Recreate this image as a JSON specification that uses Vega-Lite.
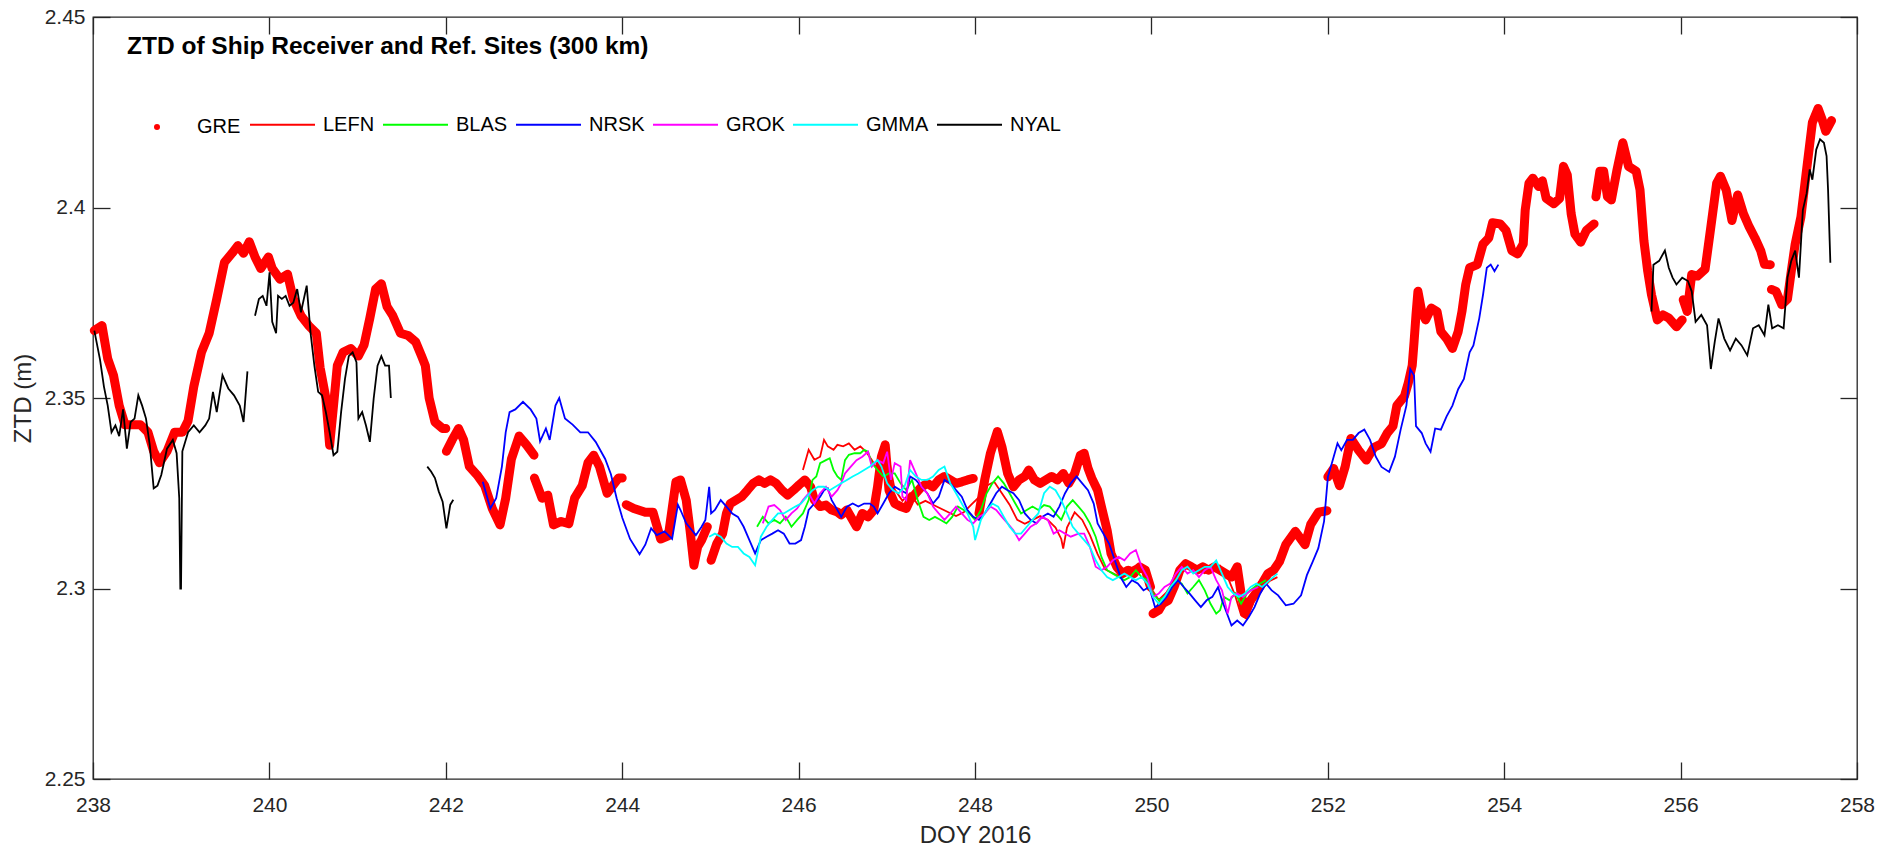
{
"$schema":"https://vega.github.io/schema/vega-lite/v6.json",
"width":1764,"height":762,
"autosize":{"type":"none"},
"padding":{"left":93,"top":17,"right":22,"bottom":71},
"background":"white",
"title":{"text":"ZTD of Ship Receiver and Ref. Sites (300 km)","anchor":"start","frame":"group","orient":"top","offset":-53,"dx":34,"font":"Liberation Sans","fontSize":24.5,"fontWeight":"bold","color":"#000000"},
"config":{"view":{"stroke":"#262626","strokeWidth":1.3},"font":"Liberation Sans"},
"datasets":{
"GRE":[
{"seg":1,"doy":238.015,"ztd":2.3677},{"seg":1,"doy":238.102,"ztd":2.369},{"seg":1,"doy":238.167,"ztd":2.3603},{"seg":1,"doy":238.232,"ztd":2.356},{"seg":1,"doy":238.297,"ztd":2.348},{"seg":1,"doy":238.362,"ztd":2.343},{"seg":1,"doy":238.449,"ztd":2.343},{"seg":1,"doy":238.536,"ztd":2.343},{"seg":1,"doy":238.623,"ztd":2.341},{"seg":1,"doy":238.688,"ztd":2.336},{"seg":1,"doy":238.753,"ztd":2.333},{"seg":1,"doy":238.839,"ztd":2.336},{"seg":1,"doy":238.926,"ztd":2.341},{"seg":1,"doy":239.013,"ztd":2.341},{"seg":1,"doy":239.078,"ztd":2.344},{"seg":1,"doy":239.143,"ztd":2.353},{"seg":1,"doy":239.23,"ztd":2.362},{"seg":1,"doy":239.317,"ztd":2.367},{"seg":1,"doy":239.403,"ztd":2.376},{"seg":1,"doy":239.49,"ztd":2.3856},{"seg":1,"doy":239.577,"ztd":2.388},{"seg":1,"doy":239.642,"ztd":2.39},{"seg":1,"doy":239.707,"ztd":2.388},{"seg":1,"doy":239.772,"ztd":2.391},{"seg":1,"doy":239.837,"ztd":2.387},{"seg":1,"doy":239.902,"ztd":2.384},{"seg":1,"doy":239.989,"ztd":2.387},{"seg":1,"doy":240.032,"ztd":2.384},{"seg":1,"doy":240.119,"ztd":2.3812},{"seg":1,"doy":240.206,"ztd":2.3825},{"seg":1,"doy":240.271,"ztd":2.376},{"seg":1,"doy":240.358,"ztd":2.3716},{"seg":1,"doy":240.445,"ztd":2.369},{"seg":1,"doy":240.532,"ztd":2.367},{"seg":1,"doy":240.575,"ztd":2.358},{"seg":1,"doy":240.64,"ztd":2.35},{"seg":1,"doy":240.683,"ztd":2.3376},{"seg":1,"doy":240.727,"ztd":2.348},{"seg":1,"doy":240.77,"ztd":2.3585},{"seg":1,"doy":240.835,"ztd":2.362},{"seg":1,"doy":240.922,"ztd":2.363},{"seg":1,"doy":241.009,"ztd":2.361},{"seg":1,"doy":241.074,"ztd":2.364},{"seg":1,"doy":241.139,"ztd":2.371},{"seg":1,"doy":241.204,"ztd":2.3786},{"seg":1,"doy":241.269,"ztd":2.38},{"seg":1,"doy":241.334,"ztd":2.374},{"seg":1,"doy":241.399,"ztd":2.3716},{"seg":1,"doy":241.486,"ztd":2.367},{"seg":1,"doy":241.573,"ztd":2.3664},{"seg":1,"doy":241.659,"ztd":2.3647},{"seg":1,"doy":241.725,"ztd":2.361},{"seg":1,"doy":241.768,"ztd":2.3585},{"seg":1,"doy":241.811,"ztd":2.35},{"seg":1,"doy":241.877,"ztd":2.3437},{"seg":1,"doy":241.964,"ztd":2.342},{"seg":1,"doy":242.0,"ztd":2.342},
{"seg":2,"doy":242.007,"ztd":2.336},{"seg":2,"doy":242.072,"ztd":2.339},{"seg":2,"doy":242.145,"ztd":2.342},{"seg":2,"doy":242.202,"ztd":2.339},{"seg":2,"doy":242.267,"ztd":2.332},{"seg":2,"doy":242.354,"ztd":2.3298},{"seg":2,"doy":242.441,"ztd":2.327},{"seg":2,"doy":242.527,"ztd":2.321},{"seg":2,"doy":242.615,"ztd":2.3167},{"seg":2,"doy":242.679,"ztd":2.3237},{"seg":2,"doy":242.744,"ztd":2.334},{"seg":2,"doy":242.831,"ztd":2.34},{"seg":2,"doy":242.918,"ztd":2.3376},{"seg":2,"doy":243.0,"ztd":2.335},
{"seg":3,"doy":243.005,"ztd":2.329},{"seg":3,"doy":243.091,"ztd":2.3237},{"seg":3,"doy":243.156,"ztd":2.3245},{"seg":3,"doy":243.221,"ztd":2.3167},{"seg":3,"doy":243.308,"ztd":2.3176},{"seg":3,"doy":243.395,"ztd":2.317},{"seg":3,"doy":243.46,"ztd":2.3237},{"seg":3,"doy":243.547,"ztd":2.327},{"seg":3,"doy":243.612,"ztd":2.333},{"seg":3,"doy":243.677,"ztd":2.335},{"seg":3,"doy":243.742,"ztd":2.332},{"seg":3,"doy":243.829,"ztd":2.325},{"seg":3,"doy":243.894,"ztd":2.327},{"seg":3,"doy":243.959,"ztd":2.329},{"seg":3,"doy":244.0,"ztd":2.329},
{"seg":4,"doy":244.046,"ztd":2.322},{"seg":4,"doy":244.132,"ztd":2.321},{"seg":4,"doy":244.262,"ztd":2.32},{"seg":4,"doy":244.349,"ztd":2.32},{"seg":4,"doy":244.436,"ztd":2.313},{"seg":4,"doy":244.523,"ztd":2.3138},{"seg":4,"doy":244.609,"ztd":2.328},{"seg":4,"doy":244.661,"ztd":2.3285},{"seg":4,"doy":244.726,"ztd":2.3232},{"seg":4,"doy":244.769,"ztd":2.3153},{"seg":4,"doy":244.813,"ztd":2.3061},{"seg":4,"doy":244.856,"ztd":2.311},{"seg":4,"doy":244.9,"ztd":2.3127},{"seg":4,"doy":244.965,"ztd":2.3162},
{"seg":5,"doy":245.008,"ztd":2.3074},{"seg":5,"doy":245.073,"ztd":2.3118},{"seg":5,"doy":245.138,"ztd":2.3144},{"seg":5,"doy":245.182,"ztd":2.3197},{"seg":5,"doy":245.225,"ztd":2.3223},{"seg":5,"doy":245.29,"ztd":2.3232},{"seg":5,"doy":245.355,"ztd":2.3241},{"seg":5,"doy":245.42,"ztd":2.3258},{"seg":5,"doy":245.485,"ztd":2.3276},{"seg":5,"doy":245.55,"ztd":2.3285},{"seg":5,"doy":245.615,"ztd":2.3276},{"seg":5,"doy":245.681,"ztd":2.3285},{"seg":5,"doy":245.746,"ztd":2.3276},{"seg":5,"doy":245.811,"ztd":2.3258},{"seg":5,"doy":245.876,"ztd":2.3245},{"seg":5,"doy":245.941,"ztd":2.3258},{"seg":5,"doy":246.006,"ztd":2.3272},{"seg":5,"doy":246.071,"ztd":2.3285},{"seg":5,"doy":246.136,"ztd":2.3267},{"seg":5,"doy":246.179,"ztd":2.3232},{"seg":5,"doy":246.244,"ztd":2.3215},{"seg":5,"doy":246.31,"ztd":2.3219},{"seg":5,"doy":246.375,"ztd":2.3206},{"seg":5,"doy":246.44,"ztd":2.3201},{"seg":5,"doy":246.483,"ztd":2.3193},{"seg":5,"doy":246.548,"ztd":2.3206},{"seg":5,"doy":246.613,"ztd":2.318},{"seg":5,"doy":246.657,"ztd":2.3162},{"seg":5,"doy":246.722,"ztd":2.3197},{"seg":5,"doy":246.787,"ztd":2.3188},{"seg":5,"doy":246.852,"ztd":2.3206},{"seg":5,"doy":246.895,"ztd":2.3267},{"seg":5,"doy":246.939,"ztd":2.3346},{"seg":5,"doy":246.982,"ztd":2.3377},{"seg":5,"doy":247.025,"ztd":2.3258},{"seg":5,"doy":247.09,"ztd":2.3223},{"seg":5,"doy":247.156,"ztd":2.3215},{"seg":5,"doy":247.221,"ztd":2.321},{"seg":5,"doy":247.264,"ztd":2.3232},{"seg":5,"doy":247.329,"ztd":2.325},{"seg":5,"doy":247.394,"ztd":2.3267},{"seg":5,"doy":247.459,"ztd":2.3276},{"seg":5,"doy":247.524,"ztd":2.3267},{"seg":5,"doy":247.589,"ztd":2.3285},{"seg":5,"doy":247.654,"ztd":2.3294},{"seg":5,"doy":247.72,"ztd":2.3285},{"seg":5,"doy":247.785,"ztd":2.3276},{"seg":5,"doy":247.85,"ztd":2.328},{"seg":5,"doy":247.915,"ztd":2.3285},{"seg":5,"doy":247.98,"ztd":2.3289},
{"seg":6,"doy":248.045,"ztd":2.3197},{"seg":6,"doy":248.11,"ztd":2.3285},{"seg":6,"doy":248.175,"ztd":2.3355},{"seg":6,"doy":248.253,"ztd":2.3412},{"seg":6,"doy":248.305,"ztd":2.3372},{"seg":6,"doy":248.37,"ztd":2.3302},{"seg":6,"doy":248.435,"ztd":2.3267},{"seg":6,"doy":248.5,"ztd":2.3285},{"seg":6,"doy":248.565,"ztd":2.3294},{"seg":6,"doy":248.609,"ztd":2.3311},{"seg":6,"doy":248.674,"ztd":2.3285},{"seg":6,"doy":248.739,"ztd":2.3276},{"seg":6,"doy":248.804,"ztd":2.3285},{"seg":6,"doy":248.869,"ztd":2.3294},{"seg":6,"doy":248.934,"ztd":2.3285},{"seg":6,"doy":249.0,"ztd":2.3302},{"seg":6,"doy":249.064,"ztd":2.3276},{"seg":6,"doy":249.13,"ztd":2.3302},{"seg":6,"doy":249.195,"ztd":2.335},{"seg":6,"doy":249.238,"ztd":2.3355},{"seg":6,"doy":249.281,"ztd":2.3316},{"seg":6,"doy":249.325,"ztd":2.3289},{"seg":6,"doy":249.39,"ztd":2.3258},{"seg":6,"doy":249.433,"ztd":2.3215},{"seg":6,"doy":249.498,"ztd":2.3153},{"seg":6,"doy":249.542,"ztd":2.3092},{"seg":6,"doy":249.607,"ztd":2.3057},{"seg":6,"doy":249.672,"ztd":2.3039},{"seg":6,"doy":249.737,"ztd":2.3048},{"seg":6,"doy":249.802,"ztd":2.3039},{"seg":6,"doy":249.867,"ztd":2.3057},{"seg":6,"doy":249.932,"ztd":2.3048},{"seg":6,"doy":249.99,"ztd":2.3004},
{"seg":7,"doy":250.019,"ztd":2.2934},{"seg":7,"doy":250.084,"ztd":2.2943},{"seg":7,"doy":250.127,"ztd":2.296},{"seg":7,"doy":250.192,"ztd":2.2969},{"seg":7,"doy":250.257,"ztd":2.3004},{"seg":7,"doy":250.322,"ztd":2.3048},{"seg":7,"doy":250.388,"ztd":2.3065},{"seg":7,"doy":250.453,"ztd":2.3057},{"seg":7,"doy":250.518,"ztd":2.3048},{"seg":7,"doy":250.583,"ztd":2.3057},{"seg":7,"doy":250.648,"ztd":2.3048},{"seg":7,"doy":250.713,"ztd":2.3057},{"seg":7,"doy":250.778,"ztd":2.3048},{"seg":7,"doy":250.843,"ztd":2.3039},{"seg":7,"doy":250.908,"ztd":2.303},{"seg":7,"doy":250.973,"ztd":2.3057},{"seg":7,"doy":251.017,"ztd":2.2987},{"seg":7,"doy":251.06,"ztd":2.2934},{"seg":7,"doy":251.125,"ztd":2.2969},{"seg":7,"doy":251.19,"ztd":2.299},{"seg":7,"doy":251.255,"ztd":2.3013},{"seg":7,"doy":251.321,"ztd":2.3039},{"seg":7,"doy":251.386,"ztd":2.3048},{"seg":7,"doy":251.451,"ztd":2.307},{"seg":7,"doy":251.524,"ztd":2.3115},{"seg":7,"doy":251.632,"ztd":2.315},{"seg":7,"doy":251.741,"ztd":2.3115},{"seg":7,"doy":251.806,"ztd":2.3168},{"seg":7,"doy":251.893,"ztd":2.32},{"seg":7,"doy":251.99,"ztd":2.3204},
{"seg":8,"doy":252.001,"ztd":2.3293},{"seg":8,"doy":252.066,"ztd":2.3315},{"seg":8,"doy":252.132,"ztd":2.327},{"seg":8,"doy":252.197,"ztd":2.332},{"seg":8,"doy":252.262,"ztd":2.3394},{"seg":8,"doy":252.349,"ztd":2.3363},{"seg":8,"doy":252.436,"ztd":2.3337},{"seg":8,"doy":252.522,"ztd":2.337},{"seg":8,"doy":252.609,"ztd":2.338},{"seg":8,"doy":252.674,"ztd":2.3408},{"seg":8,"doy":252.739,"ztd":2.3426},{"seg":8,"doy":252.783,"ztd":2.348},{"seg":8,"doy":252.87,"ztd":2.3505},{"seg":8,"doy":252.913,"ztd":2.354},{"seg":8,"doy":252.957,"ztd":2.3585},{"seg":8,"doy":252.978,"ztd":2.3647},{"seg":8,"doy":253.0,"ztd":2.3718},{"seg":8,"doy":253.022,"ztd":2.378},{"seg":8,"doy":253.065,"ztd":2.3727},{"seg":8,"doy":253.109,"ztd":2.3705},{"seg":8,"doy":253.174,"ztd":2.3736},{"seg":8,"doy":253.239,"ztd":2.3727},{"seg":8,"doy":253.282,"ztd":2.3674},{"seg":8,"doy":253.347,"ztd":2.3656},{"seg":8,"doy":253.413,"ztd":2.363},{"seg":8,"doy":253.478,"ztd":2.3674},{"seg":8,"doy":253.521,"ztd":2.3727},{"seg":8,"doy":253.564,"ztd":2.3798},{"seg":8,"doy":253.608,"ztd":2.3842},{"seg":8,"doy":253.695,"ztd":2.385},{"seg":8,"doy":253.76,"ztd":2.3904},{"seg":8,"doy":253.825,"ztd":2.392},{"seg":8,"doy":253.868,"ztd":2.396},{"seg":8,"doy":253.955,"ztd":2.3957},{"seg":8,"doy":254.02,"ztd":2.394},{"seg":8,"doy":254.086,"ztd":2.3887},{"seg":8,"doy":254.151,"ztd":2.3878},{"seg":8,"doy":254.216,"ztd":2.3904},{"seg":8,"doy":254.238,"ztd":2.3993},{"seg":8,"doy":254.281,"ztd":2.4064},{"seg":8,"doy":254.324,"ztd":2.4077},{"seg":8,"doy":254.39,"ztd":2.4055},{"seg":8,"doy":254.433,"ztd":2.407},{"seg":8,"doy":254.476,"ztd":2.4024},{"seg":8,"doy":254.563,"ztd":2.401},{"seg":8,"doy":254.628,"ztd":2.4024},{"seg":8,"doy":254.672,"ztd":2.4108},{"seg":8,"doy":254.715,"ztd":2.4086},{"seg":8,"doy":254.759,"ztd":2.3984},{"seg":8,"doy":254.802,"ztd":2.393},{"seg":8,"doy":254.867,"ztd":2.3909},{"seg":8,"doy":254.932,"ztd":2.394},{"seg":8,"doy":255.019,"ztd":2.3957},
{"seg":9,"doy":255.04,"ztd":2.4028},{"seg":9,"doy":255.085,"ztd":2.4095},{"seg":9,"doy":255.128,"ztd":2.4095},{"seg":9,"doy":255.171,"ztd":2.4028},{"seg":9,"doy":255.215,"ztd":2.402},{"seg":9,"doy":255.28,"ztd":2.41},{"seg":9,"doy":255.345,"ztd":2.417},{"seg":9,"doy":255.41,"ztd":2.4108},{"seg":9,"doy":255.497,"ztd":2.4095},{"seg":9,"doy":255.54,"ztd":2.4046},{"seg":9,"doy":255.584,"ztd":2.3913},{"seg":9,"doy":255.627,"ztd":2.3833},{"seg":9,"doy":255.67,"ztd":2.3771},{"seg":9,"doy":255.736,"ztd":2.3705},{"seg":9,"doy":255.801,"ztd":2.3718},{"seg":9,"doy":255.866,"ztd":2.371},{"seg":9,"doy":255.953,"ztd":2.3687},{"seg":9,"doy":256.018,"ztd":2.3705},
{"seg":10,"doy":256.03,"ztd":2.3758},{"seg":10,"doy":256.075,"ztd":2.3727},{"seg":10,"doy":256.126,"ztd":2.3824},{"seg":10,"doy":256.191,"ztd":2.382},{"seg":10,"doy":256.278,"ztd":2.3838},{"seg":10,"doy":256.343,"ztd":2.3949},{"seg":10,"doy":256.409,"ztd":2.4064},{"seg":10,"doy":256.452,"ztd":2.4082},{"seg":10,"doy":256.517,"ztd":2.4046},{"seg":10,"doy":256.582,"ztd":2.3966},{"seg":10,"doy":256.647,"ztd":2.4033},{"seg":10,"doy":256.712,"ztd":2.3984},{"seg":10,"doy":256.778,"ztd":2.3949},{"seg":10,"doy":256.843,"ztd":2.392},{"seg":10,"doy":256.908,"ztd":2.3887},{"seg":10,"doy":256.951,"ztd":2.3851},{"seg":10,"doy":257.017,"ztd":2.385},
{"seg":11,"doy":257.03,"ztd":2.3785},{"seg":11,"doy":257.082,"ztd":2.378},{"seg":11,"doy":257.147,"ztd":2.3745},{"seg":11,"doy":257.212,"ztd":2.376},{"seg":11,"doy":257.255,"ztd":2.3833},{"seg":11,"doy":257.299,"ztd":2.3904},{"seg":11,"doy":257.364,"ztd":2.3975},{"seg":11,"doy":257.429,"ztd":2.41},{"seg":11,"doy":257.494,"ztd":2.4223},{"seg":11,"doy":257.559,"ztd":2.426},{"seg":11,"doy":257.603,"ztd":2.4232},{"seg":11,"doy":257.646,"ztd":2.42},{"seg":11,"doy":257.711,"ztd":2.4228}
],
"LEFN":[
{"doy":246.049,"ztd":2.3311},{"doy":246.114,"ztd":2.3364},{"doy":246.179,"ztd":2.3338},{"doy":246.244,"ztd":2.3346},{"doy":246.288,"ztd":2.339},{"doy":246.331,"ztd":2.3373},{"doy":246.396,"ztd":2.3364},{"doy":246.44,"ztd":2.3377},{"doy":246.505,"ztd":2.3373},{"doy":246.57,"ztd":2.3381},{"doy":246.635,"ztd":2.3364},{"doy":246.7,"ztd":2.3373},{"doy":246.765,"ztd":2.3359},{"doy":246.83,"ztd":2.3337},{"doy":246.895,"ztd":2.3311},{"doy":246.96,"ztd":2.3337},{"doy":247.004,"ztd":2.338},{"doy":247.047,"ztd":2.331},{"doy":247.09,"ztd":2.326},{"doy":247.177,"ztd":2.323},{"doy":247.264,"ztd":2.325},{"doy":247.351,"ztd":2.322},{"doy":247.438,"ztd":2.323},{"doy":247.524,"ztd":2.322},{"doy":247.611,"ztd":2.321},{"doy":247.698,"ztd":2.32},{"doy":247.785,"ztd":2.319},{"doy":247.872,"ztd":2.32},{"doy":247.958,"ztd":2.322},{"doy":248.045,"ztd":2.324},{"doy":248.132,"ztd":2.327},{"doy":248.218,"ztd":2.328},{"doy":248.305,"ztd":2.325},{"doy":248.392,"ztd":2.322},{"doy":248.479,"ztd":2.318},{"doy":248.565,"ztd":2.317},{"doy":248.652,"ztd":2.318},{"doy":248.739,"ztd":2.319},{"doy":248.826,"ztd":2.318},{"doy":248.913,"ztd":2.316},{"doy":248.978,"ztd":2.313},{"doy":249.0,"ztd":2.3105},{"doy":249.043,"ztd":2.316},{"doy":249.13,"ztd":2.32},{"doy":249.216,"ztd":2.318},{"doy":249.303,"ztd":2.314},{"doy":249.39,"ztd":2.309},{"doy":249.476,"ztd":2.305},{"doy":249.563,"ztd":2.304},{"doy":249.65,"ztd":2.303},{"doy":249.737,"ztd":2.305},{"doy":249.824,"ztd":2.306},{"doy":249.91,"ztd":2.304},{"doy":249.997,"ztd":2.3},{"doy":250.084,"ztd":2.297},{"doy":250.171,"ztd":2.299},{"doy":250.257,"ztd":2.302},{"doy":250.344,"ztd":2.305},{"doy":250.431,"ztd":2.306},{"doy":250.518,"ztd":2.305},{"doy":250.605,"ztd":2.304},{"doy":250.691,"ztd":2.305},{"doy":250.778,"ztd":2.306},{"doy":250.865,"ztd":2.303},{"doy":250.952,"ztd":2.298},{"doy":251.017,"ztd":2.293},{"doy":251.082,"ztd":2.292},{"doy":251.169,"ztd":2.297},{"doy":251.255,"ztd":2.3},{"doy":251.342,"ztd":2.302},{"doy":251.429,"ztd":2.303}
],
"BLAS":[
{"doy":245.529,"ztd":2.3162},{"doy":245.594,"ztd":2.3188},{"doy":245.659,"ztd":2.3171},{"doy":245.724,"ztd":2.318},{"doy":245.789,"ztd":2.3171},{"doy":245.854,"ztd":2.3188},{"doy":245.919,"ztd":2.3162},{"doy":245.984,"ztd":2.318},{"doy":246.049,"ztd":2.3197},{"doy":246.114,"ztd":2.3232},{"doy":246.158,"ztd":2.3285},{"doy":246.201,"ztd":2.3294},{"doy":246.244,"ztd":2.3329},{"doy":246.31,"ztd":2.3337},{"doy":246.353,"ztd":2.3342},{"doy":246.396,"ztd":2.3311},{"doy":246.44,"ztd":2.3294},{"doy":246.483,"ztd":2.3285},{"doy":246.526,"ztd":2.3337},{"doy":246.57,"ztd":2.3351},{"doy":246.635,"ztd":2.3355},{"doy":246.7,"ztd":2.3355},{"doy":246.743,"ztd":2.3364},{"doy":246.787,"ztd":2.3359},{"doy":246.83,"ztd":2.3329},{"doy":246.895,"ztd":2.3311},{"doy":246.96,"ztd":2.3294},{"doy":247.025,"ztd":2.3302},{"doy":247.09,"ztd":2.3302},{"doy":247.156,"ztd":2.3276},{"doy":247.221,"ztd":2.3258},{"doy":247.286,"ztd":2.3285},{"doy":247.351,"ztd":2.3232},{"doy":247.416,"ztd":2.3188},{"doy":247.481,"ztd":2.318},{"doy":247.546,"ztd":2.3188},{"doy":247.611,"ztd":2.318},{"doy":247.676,"ztd":2.3171},{"doy":247.741,"ztd":2.3188},{"doy":247.806,"ztd":2.3215},{"doy":247.872,"ztd":2.3206},{"doy":247.937,"ztd":2.3197},{"doy":248.001,"ztd":2.318},{"doy":248.067,"ztd":2.3206},{"doy":248.132,"ztd":2.325},{"doy":248.197,"ztd":2.3276},{"doy":248.262,"ztd":2.3294},{"doy":248.327,"ztd":2.3276},{"doy":248.392,"ztd":2.325},{"doy":248.457,"ztd":2.3223},{"doy":248.522,"ztd":2.3197},{"doy":248.587,"ztd":2.3206},{"doy":248.652,"ztd":2.3215},{"doy":248.718,"ztd":2.3206},{"doy":248.783,"ztd":2.3219},{"doy":248.848,"ztd":2.3215},{"doy":248.913,"ztd":2.3197},{"doy":248.978,"ztd":2.318},{"doy":249.043,"ztd":2.3215},{"doy":249.108,"ztd":2.3232},{"doy":249.173,"ztd":2.3215},{"doy":249.238,"ztd":2.3197},{"doy":249.303,"ztd":2.3171},{"doy":249.368,"ztd":2.3136},{"doy":249.433,"ztd":2.3083},{"doy":249.498,"ztd":2.3048},{"doy":249.563,"ztd":2.3039},{"doy":249.628,"ztd":2.303},{"doy":249.694,"ztd":2.3022},{"doy":249.759,"ztd":2.303},{"doy":249.824,"ztd":2.3048},{"doy":249.889,"ztd":2.303},{"doy":249.954,"ztd":2.3022},{"doy":250.019,"ztd":2.2987},{"doy":250.084,"ztd":2.2969},{"doy":250.149,"ztd":2.2978},{"doy":250.214,"ztd":2.2995},{"doy":250.279,"ztd":2.3022},{"doy":250.344,"ztd":2.3013},{"doy":250.409,"ztd":2.2987},{"doy":250.474,"ztd":2.3004},{"doy":250.539,"ztd":2.3022},{"doy":250.605,"ztd":2.2995},{"doy":250.67,"ztd":2.296},{"doy":250.735,"ztd":2.2934},{"doy":250.778,"ztd":2.2943},{"doy":250.822,"ztd":2.2978},{"doy":250.887,"ztd":2.2969},{"doy":250.952,"ztd":2.2987},{"doy":251.017,"ztd":2.296},{"doy":251.082,"ztd":2.2987},{"doy":251.169,"ztd":2.3004},{"doy":251.234,"ztd":2.3013},{"doy":251.299,"ztd":2.3022}
],
"NRSK":[
{"doy":242.419,"ztd":2.328},{"doy":242.505,"ztd":2.321},{"doy":242.571,"ztd":2.3237},{"doy":242.636,"ztd":2.332},{"doy":242.679,"ztd":2.341},{"doy":242.723,"ztd":2.3463},{"doy":242.788,"ztd":2.347},{"doy":242.875,"ztd":2.349},{"doy":242.962,"ztd":2.347},{"doy":243.027,"ztd":2.3446},{"doy":243.069,"ztd":2.3386},{"doy":243.135,"ztd":2.342},{"doy":243.178,"ztd":2.339},{"doy":243.243,"ztd":2.348},{"doy":243.286,"ztd":2.35},{"doy":243.351,"ztd":2.3446},{"doy":243.438,"ztd":2.343},{"doy":243.525,"ztd":2.341},{"doy":243.612,"ztd":2.341},{"doy":243.699,"ztd":2.3385},{"doy":243.807,"ztd":2.334},{"doy":243.872,"ztd":2.33},{"doy":243.937,"ztd":2.3237},{"doy":244.002,"ztd":2.3185},{"doy":244.089,"ztd":2.313},{"doy":244.197,"ztd":2.309},{"doy":244.262,"ztd":2.3115},{"doy":244.328,"ztd":2.3158},{"doy":244.393,"ztd":2.314},{"doy":244.48,"ztd":2.315},{"doy":244.566,"ztd":2.313},{"doy":244.631,"ztd":2.322},{"doy":244.661,"ztd":2.3206},{"doy":244.726,"ztd":2.3171},{"doy":244.791,"ztd":2.3153},{"doy":244.835,"ztd":2.314},{"doy":244.9,"ztd":2.3162},{"doy":244.943,"ztd":2.318},{"doy":244.986,"ztd":2.3267},{"doy":245.008,"ztd":2.3197},{"doy":245.051,"ztd":2.3206},{"doy":245.117,"ztd":2.3232},{"doy":245.182,"ztd":2.3215},{"doy":245.247,"ztd":2.3197},{"doy":245.312,"ztd":2.3188},{"doy":245.377,"ztd":2.3162},{"doy":245.442,"ztd":2.3127},{"doy":245.507,"ztd":2.3092},{"doy":245.572,"ztd":2.3127},{"doy":245.637,"ztd":2.3136},{"doy":245.702,"ztd":2.3144},{"doy":245.767,"ztd":2.3153},{"doy":245.832,"ztd":2.3144},{"doy":245.897,"ztd":2.3118},{"doy":245.963,"ztd":2.3118},{"doy":246.028,"ztd":2.3127},{"doy":246.071,"ztd":2.3162},{"doy":246.114,"ztd":2.3206},{"doy":246.179,"ztd":2.3223},{"doy":246.244,"ztd":2.3241},{"doy":246.288,"ztd":2.3258},{"doy":246.331,"ztd":2.3263},{"doy":246.375,"ztd":2.3232},{"doy":246.44,"ztd":2.3206},{"doy":246.483,"ztd":2.3188},{"doy":246.548,"ztd":2.3215},{"doy":246.613,"ztd":2.3223},{"doy":246.678,"ztd":2.3215},{"doy":246.743,"ztd":2.3223},{"doy":246.808,"ztd":2.3223},{"doy":246.852,"ztd":2.3215},{"doy":246.895,"ztd":2.3197},{"doy":246.96,"ztd":2.3223},{"doy":247.025,"ztd":2.325},{"doy":247.09,"ztd":2.3267},{"doy":247.156,"ztd":2.3258},{"doy":247.221,"ztd":2.325},{"doy":247.264,"ztd":2.3294},{"doy":247.329,"ztd":2.3285},{"doy":247.394,"ztd":2.3267},{"doy":247.459,"ztd":2.325},{"doy":247.524,"ztd":2.3223},{"doy":247.589,"ztd":2.3241},{"doy":247.654,"ztd":2.3285},{"doy":247.72,"ztd":2.3276},{"doy":247.785,"ztd":2.3258},{"doy":247.85,"ztd":2.3241},{"doy":247.915,"ztd":2.3206},{"doy":247.98,"ztd":2.3188},{"doy":248.045,"ztd":2.318},{"doy":248.11,"ztd":2.3197},{"doy":248.175,"ztd":2.3223},{"doy":248.24,"ztd":2.325},{"doy":248.305,"ztd":2.3267},{"doy":248.37,"ztd":2.3258},{"doy":248.435,"ztd":2.325},{"doy":248.5,"ztd":2.3232},{"doy":248.565,"ztd":2.3197},{"doy":248.631,"ztd":2.318},{"doy":248.696,"ztd":2.3171},{"doy":248.761,"ztd":2.3188},{"doy":248.826,"ztd":2.3197},{"doy":248.891,"ztd":2.3188},{"doy":248.956,"ztd":2.3215},{"doy":249.021,"ztd":2.325},{"doy":249.086,"ztd":2.3276},{"doy":249.151,"ztd":2.3294},{"doy":249.216,"ztd":2.3276},{"doy":249.281,"ztd":2.3258},{"doy":249.346,"ztd":2.3223},{"doy":249.39,"ztd":2.3171},{"doy":249.455,"ztd":2.3144},{"doy":249.52,"ztd":2.3118},{"doy":249.585,"ztd":2.3074},{"doy":249.65,"ztd":2.303},{"doy":249.715,"ztd":2.3004},{"doy":249.78,"ztd":2.3022},{"doy":249.845,"ztd":2.3013},{"doy":249.91,"ztd":2.2995},{"doy":249.975,"ztd":2.3004},{"doy":250.041,"ztd":2.2951},{"doy":250.106,"ztd":2.296},{"doy":250.171,"ztd":2.2978},{"doy":250.236,"ztd":2.3004},{"doy":250.301,"ztd":2.3022},{"doy":250.366,"ztd":2.3004},{"doy":250.431,"ztd":2.2987},{"doy":250.496,"ztd":2.2969},{"doy":250.561,"ztd":2.2951},{"doy":250.626,"ztd":2.2969},{"doy":250.691,"ztd":2.2978},{"doy":250.756,"ztd":2.3004},{"doy":250.8,"ztd":2.2969},{"doy":250.843,"ztd":2.2943},{"doy":250.908,"ztd":2.2903},{"doy":250.973,"ztd":2.2916},{"doy":251.038,"ztd":2.2903},{"doy":251.104,"ztd":2.2925},{"doy":251.169,"ztd":2.2951},{"doy":251.234,"ztd":2.2987},{"doy":251.299,"ztd":2.3013},{"doy":251.364,"ztd":2.2995},{"doy":251.437,"ztd":2.2982},{"doy":251.524,"ztd":2.2956},{"doy":251.611,"ztd":2.296},{"doy":251.697,"ztd":2.2982},{"doy":251.763,"ztd":2.3035},{"doy":251.828,"ztd":2.307},{"doy":251.893,"ztd":2.3106},{"doy":251.958,"ztd":2.3177},{"doy":252.001,"ztd":2.3293},{"doy":252.045,"ztd":2.3328},{"doy":252.11,"ztd":2.3381},{"doy":252.153,"ztd":2.3363},{"doy":252.218,"ztd":2.339},{"doy":252.284,"ztd":2.339},{"doy":252.349,"ztd":2.3408},{"doy":252.414,"ztd":2.3417},{"doy":252.479,"ztd":2.339},{"doy":252.544,"ztd":2.3346},{"doy":252.609,"ztd":2.3319},{"doy":252.696,"ztd":2.3306},{"doy":252.761,"ztd":2.3346},{"doy":252.826,"ztd":2.3417},{"doy":252.891,"ztd":2.348},{"doy":252.935,"ztd":2.3576},{"doy":252.978,"ztd":2.3559},{"doy":253.0,"ztd":2.3426},{"doy":253.065,"ztd":2.3408},{"doy":253.109,"ztd":2.3381},{"doy":253.165,"ztd":2.3359},{"doy":253.217,"ztd":2.342},{"doy":253.282,"ztd":2.3417},{"doy":253.347,"ztd":2.3452},{"doy":253.413,"ztd":2.348},{"doy":253.478,"ztd":2.3523},{"doy":253.543,"ztd":2.355},{"doy":253.608,"ztd":2.362},{"doy":253.651,"ztd":2.3638},{"doy":253.717,"ztd":2.3709},{"doy":253.76,"ztd":2.3771},{"doy":253.803,"ztd":2.3842},{"doy":253.847,"ztd":2.385},{"doy":253.89,"ztd":2.3833},{"doy":253.934,"ztd":2.385}
],
"GROK":[
{"doy":245.594,"ztd":2.3171},{"doy":245.659,"ztd":2.3215},{"doy":245.724,"ztd":2.3219},{"doy":245.789,"ztd":2.3206},{"doy":245.854,"ztd":2.318},{"doy":245.919,"ztd":2.3197},{"doy":245.984,"ztd":2.321},{"doy":246.049,"ztd":2.3232},{"doy":246.114,"ztd":2.325},{"doy":246.179,"ztd":2.3223},{"doy":246.244,"ztd":2.325},{"doy":246.31,"ztd":2.3267},{"doy":246.375,"ztd":2.3241},{"doy":246.44,"ztd":2.3258},{"doy":246.483,"ztd":2.3276},{"doy":246.526,"ztd":2.3302},{"doy":246.592,"ztd":2.332},{"doy":246.657,"ztd":2.3337},{"doy":246.722,"ztd":2.3346},{"doy":246.787,"ztd":2.3359},{"doy":246.83,"ztd":2.332},{"doy":246.895,"ztd":2.3337},{"doy":246.96,"ztd":2.3329},{"doy":247.004,"ztd":2.3359},{"doy":247.047,"ztd":2.3285},{"doy":247.09,"ztd":2.3329},{"doy":247.156,"ztd":2.332},{"doy":247.177,"ztd":2.3241},{"doy":247.221,"ztd":2.3232},{"doy":247.264,"ztd":2.3337},{"doy":247.329,"ztd":2.3302},{"doy":247.394,"ztd":2.3267},{"doy":247.459,"ztd":2.325},{"doy":247.524,"ztd":2.3215},{"doy":247.589,"ztd":2.3197},{"doy":247.654,"ztd":2.318},{"doy":247.72,"ztd":2.3197},{"doy":247.785,"ztd":2.3215},{"doy":247.85,"ztd":2.3197},{"doy":247.915,"ztd":2.318},{"doy":247.98,"ztd":2.3171},{"doy":248.045,"ztd":2.3188},{"doy":248.11,"ztd":2.3197},{"doy":248.175,"ztd":2.3215},{"doy":248.24,"ztd":2.3206},{"doy":248.305,"ztd":2.3188},{"doy":248.37,"ztd":2.3171},{"doy":248.435,"ztd":2.3153},{"doy":248.5,"ztd":2.3127},{"doy":248.565,"ztd":2.3144},{"doy":248.631,"ztd":2.3162},{"doy":248.696,"ztd":2.3171},{"doy":248.761,"ztd":2.3188},{"doy":248.826,"ztd":2.318},{"doy":248.891,"ztd":2.3144},{"doy":248.956,"ztd":2.3153},{"doy":249.021,"ztd":2.3144},{"doy":249.086,"ztd":2.3136},{"doy":249.173,"ztd":2.3144},{"doy":249.238,"ztd":2.3144},{"doy":249.303,"ztd":2.3109},{"doy":249.368,"ztd":2.3057},{"doy":249.433,"ztd":2.3048},{"doy":249.498,"ztd":2.3057},{"doy":249.563,"ztd":2.3074},{"doy":249.628,"ztd":2.3083},{"doy":249.694,"ztd":2.3074},{"doy":249.759,"ztd":2.3092},{"doy":249.824,"ztd":2.3101},{"doy":249.889,"ztd":2.3057},{"doy":249.954,"ztd":2.303},{"doy":250.019,"ztd":2.2978},{"doy":250.084,"ztd":2.2987},{"doy":250.149,"ztd":2.3004},{"doy":250.214,"ztd":2.3013},{"doy":250.279,"ztd":2.3039},{"doy":250.344,"ztd":2.3057},{"doy":250.409,"ztd":2.3039},{"doy":250.474,"ztd":2.3048},{"doy":250.539,"ztd":2.303},{"doy":250.605,"ztd":2.3048},{"doy":250.67,"ztd":2.3057},{"doy":250.735,"ztd":2.3022},{"doy":250.8,"ztd":2.2995},{"doy":250.865,"ztd":2.2934},{"doy":250.908,"ztd":2.2978},{"doy":250.973,"ztd":2.2987},{"doy":251.038,"ztd":2.2978},{"doy":251.125,"ztd":2.2995},{"doy":251.212,"ztd":2.3004}
],
"GMMA":[
{"doy":244.986,"ztd":2.3136},{"doy":245.051,"ztd":2.3144},{"doy":245.117,"ztd":2.3136},{"doy":245.182,"ztd":2.3118},{"doy":245.247,"ztd":2.3109},{"doy":245.312,"ztd":2.3109},{"doy":245.377,"ztd":2.3092},{"doy":245.442,"ztd":2.3083},{"doy":245.507,"ztd":2.3061},{"doy":245.572,"ztd":2.3136},{"doy":245.637,"ztd":2.3162},{"doy":245.702,"ztd":2.318},{"doy":245.767,"ztd":2.3197},{"doy":245.832,"ztd":2.3197},{"doy":245.897,"ztd":2.3206},{"doy":245.963,"ztd":2.3215},{"doy":246.028,"ztd":2.3223},{"doy":246.093,"ztd":2.3241},{"doy":246.158,"ztd":2.3258},{"doy":246.223,"ztd":2.3267},{"doy":246.288,"ztd":2.3267},{"doy":246.353,"ztd":2.3258},{"doy":246.418,"ztd":2.3267},{"doy":246.483,"ztd":2.3276},{"doy":246.548,"ztd":2.3285},{"doy":246.613,"ztd":2.3294},{"doy":246.678,"ztd":2.3302},{"doy":246.743,"ztd":2.3311},{"doy":246.808,"ztd":2.332},{"doy":246.852,"ztd":2.3329},{"doy":246.895,"ztd":2.3337},{"doy":246.939,"ztd":2.332},{"doy":247.004,"ztd":2.3276},{"doy":247.069,"ztd":2.3258},{"doy":247.134,"ztd":2.325},{"doy":247.199,"ztd":2.3267},{"doy":247.264,"ztd":2.3311},{"doy":247.329,"ztd":2.3294},{"doy":247.394,"ztd":2.3285},{"doy":247.459,"ztd":2.3285},{"doy":247.524,"ztd":2.3294},{"doy":247.589,"ztd":2.3311},{"doy":247.654,"ztd":2.332},{"doy":247.72,"ztd":2.3276},{"doy":247.785,"ztd":2.325},{"doy":247.85,"ztd":2.3223},{"doy":247.915,"ztd":2.3197},{"doy":247.98,"ztd":2.3162},{"doy":248.001,"ztd":2.3127},{"doy":248.067,"ztd":2.318},{"doy":248.132,"ztd":2.3206},{"doy":248.197,"ztd":2.3223},{"doy":248.262,"ztd":2.3215},{"doy":248.327,"ztd":2.3188},{"doy":248.392,"ztd":2.3162},{"doy":248.457,"ztd":2.3144},{"doy":248.522,"ztd":2.3144},{"doy":248.587,"ztd":2.3162},{"doy":248.652,"ztd":2.318},{"doy":248.718,"ztd":2.3197},{"doy":248.783,"ztd":2.325},{"doy":248.848,"ztd":2.3267},{"doy":248.913,"ztd":2.3258},{"doy":248.978,"ztd":2.3232},{"doy":249.043,"ztd":2.3197},{"doy":249.108,"ztd":2.3162},{"doy":249.173,"ztd":2.3144},{"doy":249.238,"ztd":2.3127},{"doy":249.303,"ztd":2.3109},{"doy":249.368,"ztd":2.3074},{"doy":249.433,"ztd":2.3048},{"doy":249.498,"ztd":2.303},{"doy":249.563,"ztd":2.3022},{"doy":249.628,"ztd":2.303},{"doy":249.694,"ztd":2.3039},{"doy":249.759,"ztd":2.303},{"doy":249.824,"ztd":2.3022},{"doy":249.889,"ztd":2.303},{"doy":249.954,"ztd":2.3013},{"doy":250.019,"ztd":2.2978},{"doy":250.084,"ztd":2.296},{"doy":250.149,"ztd":2.2978},{"doy":250.214,"ztd":2.3004},{"doy":250.279,"ztd":2.3022},{"doy":250.344,"ztd":2.3048},{"doy":250.409,"ztd":2.3057},{"doy":250.474,"ztd":2.3039},{"doy":250.539,"ztd":2.3048},{"doy":250.605,"ztd":2.3057},{"doy":250.67,"ztd":2.3057},{"doy":250.735,"ztd":2.3074},{"doy":250.8,"ztd":2.3039},{"doy":250.865,"ztd":2.3004},{"doy":250.93,"ztd":2.2987},{"doy":250.995,"ztd":2.2978},{"doy":251.06,"ztd":2.2987},{"doy":251.125,"ztd":2.3004},{"doy":251.19,"ztd":2.3013},{"doy":251.255,"ztd":2.3004},{"doy":251.342,"ztd":2.3022},{"doy":251.429,"ztd":2.3039}
],
"NYAL":[
{"seg":1,"doy":238.015,"ztd":2.3677},{"seg":1,"doy":238.08,"ztd":2.36},{"seg":1,"doy":238.124,"ztd":2.353},{"seg":1,"doy":238.167,"ztd":2.348},{"seg":1,"doy":238.21,"ztd":2.341},{"seg":1,"doy":238.254,"ztd":2.3428},{"seg":1,"doy":238.297,"ztd":2.34},{"seg":1,"doy":238.341,"ztd":2.347},{"seg":1,"doy":238.384,"ztd":2.3367},{"seg":1,"doy":238.427,"ztd":2.3437},{"seg":1,"doy":238.471,"ztd":2.3446},{"seg":1,"doy":238.514,"ztd":2.3507},{"seg":1,"doy":238.557,"ztd":2.348},{"seg":1,"doy":238.601,"ztd":2.3446},{"seg":1,"doy":238.644,"ztd":2.3376},{"seg":1,"doy":238.688,"ztd":2.3263},{"seg":1,"doy":238.731,"ztd":2.327},{"seg":1,"doy":238.774,"ztd":2.3298},{"seg":1,"doy":238.839,"ztd":2.3367},{"seg":1,"doy":238.905,"ztd":2.339},{"seg":1,"doy":238.948,"ztd":2.3355},{"seg":1,"doy":238.978,"ztd":2.3237},{"seg":1,"doy":238.99,"ztd":2.3},{"seg":1,"doy":238.998,"ztd":2.3},{"seg":1,"doy":239.013,"ztd":2.336},{"seg":1,"doy":239.078,"ztd":2.341},{"seg":1,"doy":239.143,"ztd":2.3428},{"seg":1,"doy":239.208,"ztd":2.341},{"seg":1,"doy":239.273,"ztd":2.3428},{"seg":1,"doy":239.317,"ztd":2.3446},{"seg":1,"doy":239.36,"ztd":2.3516},{"seg":1,"doy":239.403,"ztd":2.3463},{"seg":1,"doy":239.468,"ztd":2.356},{"seg":1,"doy":239.534,"ztd":2.3525},{"seg":1,"doy":239.599,"ztd":2.3507},{"seg":1,"doy":239.664,"ztd":2.348},{"seg":1,"doy":239.707,"ztd":2.3437},{"seg":1,"doy":239.751,"ztd":2.357},
{"seg":2,"doy":239.837,"ztd":2.3716},{"seg":2,"doy":239.881,"ztd":2.376},{"seg":2,"doy":239.924,"ztd":2.3768},{"seg":2,"doy":239.967,"ztd":2.3742},{"seg":2,"doy":240.002,"ztd":2.383},{"seg":2,"doy":240.032,"ztd":2.37},{"seg":2,"doy":240.076,"ztd":2.367},{"seg":2,"doy":240.098,"ztd":2.3768},{"seg":2,"doy":240.141,"ztd":2.376},{"seg":2,"doy":240.184,"ztd":2.3768},{"seg":2,"doy":240.228,"ztd":2.3742},{"seg":2,"doy":240.271,"ztd":2.375},{"seg":2,"doy":240.315,"ztd":2.3786},{"seg":2,"doy":240.358,"ztd":2.3725},{"seg":2,"doy":240.423,"ztd":2.3795},{"seg":2,"doy":240.467,"ztd":2.367},{"seg":2,"doy":240.51,"ztd":2.3585},{"seg":2,"doy":240.553,"ztd":2.3516},{"seg":2,"doy":240.597,"ztd":2.3507},{"seg":2,"doy":240.64,"ztd":2.3463},{"seg":2,"doy":240.683,"ztd":2.341},{"seg":2,"doy":240.727,"ztd":2.335},{"seg":2,"doy":240.77,"ztd":2.3359},{"seg":2,"doy":240.813,"ztd":2.3463},{"seg":2,"doy":240.857,"ztd":2.355},{"seg":2,"doy":240.9,"ztd":2.361},{"seg":2,"doy":240.944,"ztd":2.362},{"seg":2,"doy":240.987,"ztd":2.3594},{"seg":2,"doy":241.009,"ztd":2.3446},{"seg":2,"doy":241.052,"ztd":2.3463},{"seg":2,"doy":241.095,"ztd":2.3428},{"seg":2,"doy":241.139,"ztd":2.3385},{"seg":2,"doy":241.182,"ztd":2.3498},{"seg":2,"doy":241.226,"ztd":2.3585},{"seg":2,"doy":241.269,"ztd":2.361},{"seg":2,"doy":241.312,"ztd":2.3585},{"seg":2,"doy":241.356,"ztd":2.3585},{"seg":2,"doy":241.377,"ztd":2.35},
{"seg":3,"doy":241.79,"ztd":2.332},{"seg":3,"doy":241.833,"ztd":2.3307},{"seg":3,"doy":241.877,"ztd":2.329},{"seg":3,"doy":241.92,"ztd":2.3255},{"seg":3,"doy":241.964,"ztd":2.3228},{"seg":3,"doy":242.007,"ztd":2.3158},{"seg":3,"doy":242.051,"ztd":2.322},{"seg":3,"doy":242.085,"ztd":2.3233},
{"seg":4,"doy":255.67,"ztd":2.3727},{"seg":4,"doy":255.692,"ztd":2.385},{"seg":4,"doy":255.757,"ztd":2.386},{"seg":4,"doy":255.822,"ztd":2.3887},{"seg":4,"doy":255.866,"ztd":2.3842},{"seg":4,"doy":255.909,"ztd":2.3816},{"seg":4,"doy":255.953,"ztd":2.3798},{"seg":4,"doy":256.018,"ztd":2.3816},{"seg":4,"doy":256.083,"ztd":2.3807},{"seg":4,"doy":256.126,"ztd":2.378},{"seg":4,"doy":256.17,"ztd":2.37},{"seg":4,"doy":256.235,"ztd":2.3718},{"seg":4,"doy":256.3,"ztd":2.3691},{"seg":4,"doy":256.343,"ztd":2.3576},{"seg":4,"doy":256.387,"ztd":2.3647},{"seg":4,"doy":256.43,"ztd":2.3709},{"seg":4,"doy":256.495,"ztd":2.3656},{"seg":4,"doy":256.561,"ztd":2.3625},{"seg":4,"doy":256.626,"ztd":2.3656},{"seg":4,"doy":256.691,"ztd":2.3638},{"seg":4,"doy":256.756,"ztd":2.3612},{"seg":4,"doy":256.821,"ztd":2.3683},{"seg":4,"doy":256.886,"ztd":2.3691},{"seg":4,"doy":256.951,"ztd":2.3665},{"seg":4,"doy":256.995,"ztd":2.3745},{"seg":4,"doy":257.038,"ztd":2.3683},{"seg":4,"doy":257.103,"ztd":2.3691},{"seg":4,"doy":257.168,"ztd":2.3683},{"seg":4,"doy":257.212,"ztd":2.3816},{"seg":4,"doy":257.255,"ztd":2.386},{"seg":4,"doy":257.299,"ztd":2.3887},{"seg":4,"doy":257.342,"ztd":2.3816},{"seg":4,"doy":257.386,"ztd":2.3993},{"seg":4,"doy":257.429,"ztd":2.4037},{"seg":4,"doy":257.464,"ztd":2.41},{"seg":4,"doy":257.494,"ztd":2.4073},{"seg":4,"doy":257.538,"ztd":2.4152},{"seg":4,"doy":257.581,"ztd":2.4179},{"seg":4,"doy":257.625,"ztd":2.417},{"seg":4,"doy":257.655,"ztd":2.4135},{"seg":4,"doy":257.672,"ztd":2.4046},{"seg":4,"doy":257.69,"ztd":2.3913},{"seg":4,"doy":257.698,"ztd":2.3855}
]
},
"resolve":{"axis":{"x":"independent","y":"independent"}},
"layer":[
{"data":{"name":"GRE"},
 "mark":{"type":"line","strokeWidth":9,"strokeCap":"round","strokeJoin":"round"},
 "encoding":{
  "x":{"field":"doy","type":"quantitative","scale":{"domain":[238,258],"nice":false,"zero":false},
       "axis":{"orient":"bottom","values":[238,240,242,244,246,248,250,252,254,256,258],"format":"d","labelFlush":false,"labelOverlap":false,"labelFont":"Liberation Sans","labelFontSize":21,"labelColor":"#262626","tickColor":"#262626","tickSize":-17,"tickWidth":1.3,"domain":false,"grid":false,"labelPadding":32,"title":"DOY 2016","titleFont":"Liberation Sans","titleFontSize":24,"titleFontWeight":"normal","titleColor":"#262626","titlePadding":8}},
  "y":{"field":"ztd","type":"quantitative","scale":{"domain":[2.25,2.45],"nice":false,"zero":false},
       "axis":{"orient":"left","values":[2.25,2.3,2.35,2.4,2.45],"format":".2~f","labelFlush":false,"labelOverlap":false,"labelFont":"Liberation Sans","labelFontSize":21,"labelColor":"#262626","tickColor":"#262626","tickSize":-17,"tickWidth":1.3,"domain":false,"grid":false,"labelPadding":25,"title":"ZTD (m)","titleFont":"Liberation Sans","titleFontSize":24,"titleFontWeight":"normal","titleColor":"#262626","titlePadding":9}},
  "detail":{"field":"seg","type":"nominal"},
  "color":{"datum":"GRE","type":"nominal","scale":{"domain":["GRE"],"range":["#ff0000"]},
       "legend":{"orient":"none","legendX":54,"legendY":100,"title":null,"direction":"horizontal","padding":0,"symbolType":"circle","symbolSize":36,"symbolFillColor":"#ff0000","symbolStrokeColor":"#ff0000","symbolStrokeWidth":0,"labelFont":"Liberation Sans","labelFontSize":20,"labelColor":"#000000","labelOffset":30,
         "encode":{"symbols":{"update":{"fill":{"value":"#ff0000"},"stroke":{"value":"#ff0000"},"strokeWidth":{"value":0}}}}}}
 }},
{"data":{"name":"LEFN"},
 "mark":{"type":"line","strokeWidth":1.8},
 "encoding":{
  "x":{"field":"doy","type":"quantitative","axis":{"orient":"top","values":[238,240,242,244,246,248,250,252,254,256,258],"labels":false,"tickColor":"#262626","tickSize":-17,"tickWidth":1.3,"domain":false,"grid":false,"title":null}},
  "y":{"field":"ztd","type":"quantitative","axis":{"orient":"right","values":[2.25,2.3,2.35,2.4,2.45],"labels":false,"tickColor":"#262626","tickSize":-17,"tickWidth":1.3,"domain":false,"grid":false,"title":null}},
  "stroke":{"datum":"LEFN","type":"nominal","scale":{"domain":["LEFN","BLAS","NRSK","GROK","GMMA","NYAL"],"range":["#ff0000","#00ff00","#0000ff","#ff00ff","#00ffff","#000000"]},
       "legend":{"orient":"none","legendX":156,"legendY":74,"title":null,"direction":"horizontal","padding":0,"symbolType":"stroke","symbolSize":4225,"symbolStrokeWidth":1.8,"labelFont":"Liberation Sans","labelFontSize":20,"labelColor":"#000000","labelOffset":7,"columnPadding":4}}
 }},
{"data":{"name":"BLAS"},"mark":{"type":"line","strokeWidth":1.8},
 "encoding":{"x":{"field":"doy","type":"quantitative","axis":null},"y":{"field":"ztd","type":"quantitative","axis":null},"stroke":{"datum":"BLAS","type":"nominal"}}},
{"data":{"name":"NRSK"},"mark":{"type":"line","strokeWidth":1.8},
 "encoding":{"x":{"field":"doy","type":"quantitative","axis":null},"y":{"field":"ztd","type":"quantitative","axis":null},"stroke":{"datum":"NRSK","type":"nominal"}}},
{"data":{"name":"GROK"},"mark":{"type":"line","strokeWidth":1.8},
 "encoding":{"x":{"field":"doy","type":"quantitative","axis":null},"y":{"field":"ztd","type":"quantitative","axis":null},"stroke":{"datum":"GROK","type":"nominal"}}},
{"data":{"name":"GMMA"},"mark":{"type":"line","strokeWidth":1.8},
 "encoding":{"x":{"field":"doy","type":"quantitative","axis":null},"y":{"field":"ztd","type":"quantitative","axis":null},"stroke":{"datum":"GMMA","type":"nominal"}}},
{"data":{"name":"NYAL"},"mark":{"type":"line","strokeWidth":1.8},
 "encoding":{"x":{"field":"doy","type":"quantitative","axis":null},"y":{"field":"ztd","type":"quantitative","axis":null},"detail":{"field":"seg","type":"nominal"},"stroke":{"datum":"NYAL","type":"nominal"}}}
]
}
